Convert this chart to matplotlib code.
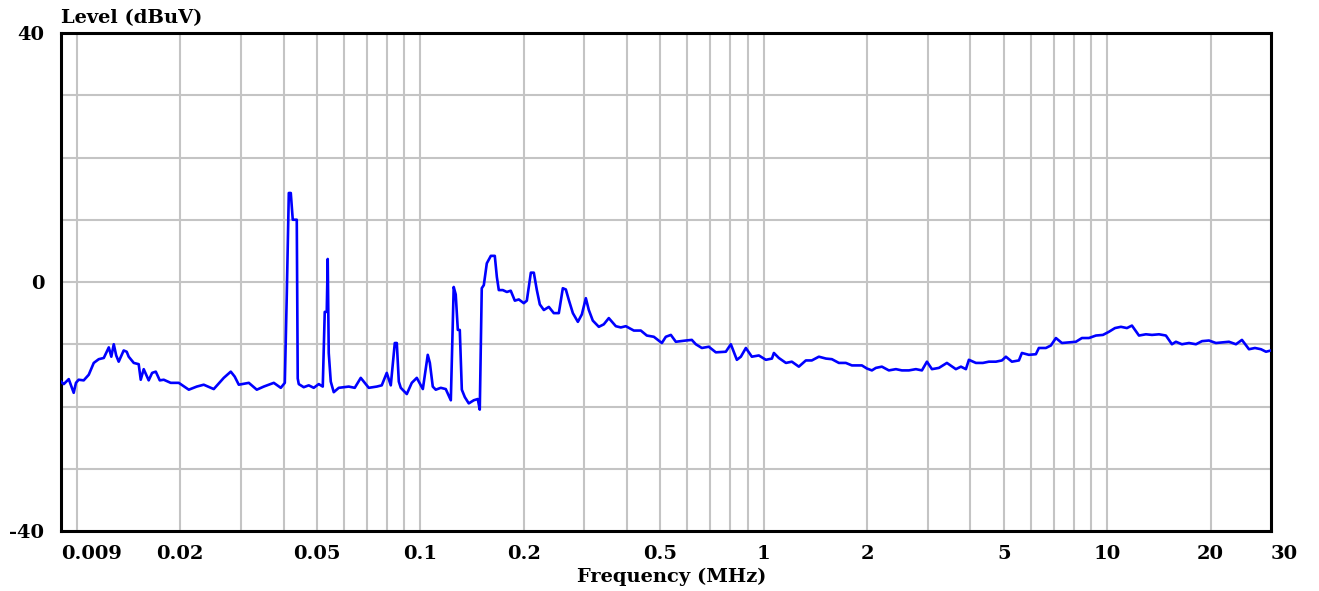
import matplotlib
matplotlib.use("Agg")
import matplotlib.pyplot as plt
from matplotlib.ticker import FixedLocator, NullFormatter

# spectrum trace (frequency in MHz, level in dBuV)
freq = [0.009, 0.00917, 0.00948, 0.0098, 0.00995, 0.01013, 0.01048, 0.01084, 0.01121, 0.01159,
        0.01199, 0.0124, 0.01261, 0.01282, 0.01303, 0.01325, 0.0137, 0.01398, 0.01417, 0.01466,
        0.01515, 0.01536, 0.01567, 0.0162, 0.01658, 0.01699, 0.01745, 0.01792, 0.01878, 0.01982,
        0.0212, 0.02236, 0.02343, 0.02506, 0.0268, 0.02809, 0.02884, 0.02964, 0.0317, 0.03344,
        0.03504, 0.03748, 0.03928, 0.04035, 0.04089, 0.04145, 0.042, 0.04256, 0.04313, 0.04372,
        0.0440, 0.04431, 0.04581, 0.04738, 0.04899, 0.05066, 0.05204, 0.05274, 0.05345, 0.0538,
        0.05417, 0.05491, 0.05602, 0.05794, 0.06196, 0.06449, 0.06714, 0.07084, 0.07475, 0.07729,
        0.07992, 0.08211, 0.08435, 0.08549, 0.08665, 0.08781, 0.09141, 0.09452, 0.09775, 0.1018,
        0.1052, 0.1067, 0.1088, 0.111, 0.1148, 0.1187, 0.1228, 0.1252, 0.1269, 0.1287,
        0.1304, 0.1322, 0.1349, 0.1385, 0.1432, 0.1471, 0.1491, 0.1511, 0.1532, 0.1563,
        0.1606, 0.1649, 0.1672, 0.1694, 0.174, 0.1788, 0.1835, 0.1886, 0.1937, 0.2003,
        0.2044, 0.21, 0.2142, 0.2186, 0.223, 0.2291, 0.2369, 0.2449, 0.2533, 0.2602,
        0.2655, 0.2709, 0.2783, 0.2878, 0.2956, 0.3036, 0.3097, 0.3181, 0.3312, 0.3424,
        0.3541, 0.3712, 0.3838, 0.3969, 0.4188, 0.4389, 0.4569, 0.4789, 0.5053, 0.519,
        0.5368, 0.555, 0.5936, 0.6178, 0.6346, 0.6607, 0.6924, 0.7257, 0.776, 0.8025,
        0.8356, 0.8583, 0.8876, 0.9239, 0.9683, 1.015, 1.057, 1.071, 1.107, 1.161,
        1.208, 1.266, 1.327, 1.381, 1.448, 1.518, 1.58, 1.656, 1.735, 1.807,
        1.868, 1.932, 1.998, 2.066, 2.122, 2.209, 2.315, 2.427, 2.526, 2.648,
        2.775, 2.889, 2.988, 3.09, 3.238, 3.416, 3.628, 3.753, 3.88, 3.959,
        4.149, 4.348, 4.526, 4.745, 4.939, 5.073, 5.282, 5.535, 5.647, 5.918,
        6.203, 6.328, 6.633, 6.859, 7.094, 7.385, 7.74, 8.112, 8.445, 8.851,
        9.277, 9.723, 10.12, 10.54, 10.97, 11.42, 11.81, 12.38, 12.97, 13.51,
        14.16, 14.83, 15.44, 15.86, 16.51, 17.31, 18.14, 18.89, 19.79, 20.74,
        21.6, 22.63, 23.72, 24.69, 25.88, 26.94, 28.05, 29.0, 30.0]
level = [-16.0, -16.4, -15.6, -17.8, -16.2, -15.7, -15.8, -14.9, -13.0, -12.4,
         -12.2, -10.5, -12.0, -10.0, -11.8, -12.8, -11.0, -11.2, -12.0, -13.0,
         -13.2, -15.7, -14.0, -15.8, -14.6, -14.4, -15.8, -15.7, -16.2, -16.2,
         -17.3, -16.8, -16.5, -17.2, -15.4, -14.4, -15.2, -16.5, -16.2, -17.3,
         -16.8, -16.2, -17.0, -16.2, -2.0, 14.3, 14.3, 10.0, 10.0, 10.0,
         -15.5, -16.4, -16.9, -16.6, -17.0, -16.4, -16.8, -4.8, -4.8, 3.7,
         -11.4, -16.0, -17.7, -17.0, -16.8, -17.0, -15.4, -17.0, -16.8, -16.6,
         -14.6, -16.6, -9.8, -9.8, -16.0, -17.0, -18.0, -16.2, -15.4, -17.2,
         -11.7, -13.0, -16.8, -17.3, -17.0, -17.2, -19.0, -0.8, -2.0, -7.7,
         -7.7, -17.3, -18.5, -19.5, -19.0, -18.8, -20.5, -1.0, -0.5, 3.0,
         4.2, 4.2, 0.8, -1.3, -1.3, -1.6, -1.4, -3.0, -2.8, -3.4,
         -3.0, 1.5, 1.5, -1.3, -3.6, -4.5, -4.0, -5.0, -5.0, -1.0,
         -1.2, -2.9, -5.0, -6.4, -5.2, -2.6, -4.5, -6.2, -7.2, -6.8,
         -5.8, -7.1, -7.3, -7.1, -7.8, -7.8, -8.6, -8.8, -9.8, -8.8,
         -8.5, -9.6, -9.4, -9.3, -10.0, -10.6, -10.4, -11.3, -11.2, -10.0,
         -12.5, -12.0, -10.6, -12.0, -11.8, -12.5, -12.3, -11.4, -12.2, -13.0,
         -12.8, -13.6, -12.6, -12.6, -12.0, -12.3, -12.4, -13.0, -13.0, -13.4,
         -13.4, -13.4, -13.9, -14.2, -13.8, -13.6, -14.2, -14.0, -14.2, -14.2,
         -14.0, -14.2, -12.8, -14.0, -13.8, -13.0, -14.0, -13.6, -14.0, -12.5,
         -13.0, -13.0, -12.8, -12.8, -12.6, -12.0, -12.8, -12.6, -11.4, -11.7,
         -11.6, -10.6, -10.6, -10.2, -9.0, -9.8, -9.7, -9.6, -9.0, -9.0,
         -8.6, -8.5, -8.0, -7.4, -7.2, -7.4, -7.0, -8.6, -8.4, -8.5,
         -8.4, -8.6, -10.0, -9.6, -10.0, -9.8, -10.0, -9.5, -9.4, -9.8,
         -9.7, -9.6, -10.0, -9.3, -10.8, -10.6, -10.8, -11.2, -11.0]

# axis labelling
x_ticks = [0.009, 0.02, 0.05, 0.1, 0.2, 0.5, 1, 2, 5, 10, 20, 30]
x_tick_labels = ["0.009", "0.02", "0.05", "0.1", "0.2", "0.5", "1", "2", "5", "10", "20", "30"]
y_ticks = [-40, 0, 40]
y_grid = [-30, -20, -10, 0, 10, 20, 30]

grid_x = []
for dec in [0.01, 0.1, 1, 10]:
    for m in range(1, 10):
        v = round(m * dec, 4)
        if v < 30:
            grid_x.append(v)

font = {"family": "DejaVu Serif", "weight": "bold", "size": 14}

fig = plt.figure(figsize=(13.19, 5.91), dpi=100)
ax = fig.add_axes([61 / 1319, 1 - 531 / 591, 1210 / 1319, 498 / 591])

ax.plot(freq, level, color="#0000ff", lw=1.9, zorder=3)

ax.set_xscale("log")
ax.set_xlim(0.009, 30)
ax.set_ylim(-40, 40)

ax.xaxis.set_major_locator(FixedLocator(x_ticks))
ax.set_xticklabels(x_tick_labels, fontdict=font)
ax.xaxis.set_minor_locator(FixedLocator(grid_x))
ax.xaxis.set_minor_formatter(NullFormatter())
ax.set_yticks(y_ticks)
ax.set_yticklabels([str(v) for v in y_ticks], fontdict=font)
ax.yaxis.set_minor_locator(FixedLocator(y_grid))

ax.tick_params(which="both", length=0)
ax.tick_params(axis="x", pad=10)
ax.tick_params(axis="y", pad=12)
labs = ax.get_xticklabels()
labs[0].set_horizontalalignment("left")
labs[-1].set_horizontalalignment("left")

# minor ticks that sit on a major tick get dropped, so both need the grid
ax.grid(which="both", color="#c4c4c4", lw=1.5)
ax.set_axisbelow(True)

for s in ax.spines.values():
    s.set_color("black")
    s.set_linewidth(2.2)

fig.text(61 / 1319, 1 - 18 / 591, "Level (dBuV)", va="center", ha="left", **font)
fig.text(672 / 1319, 1 - 577 / 591, "Frequency (MHz)", va="center", ha="center", **font)

fig.savefig("out.png", dpi=100)
